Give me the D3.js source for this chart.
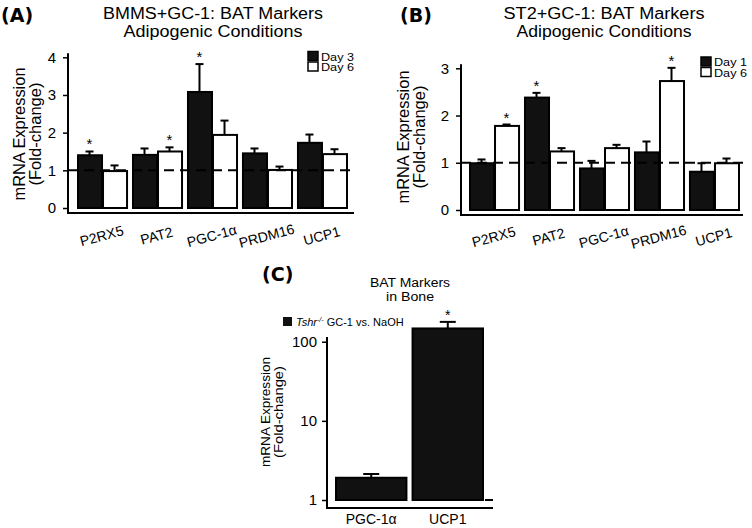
<!DOCTYPE html>
<html><head><meta charset="utf-8">
<script src="https://cdn.jsdelivr.net/npm/d3@7"></script>
<style>
html,body{margin:0;padding:0;background:#fff;}
svg{display:block;font-family:"Liberation Sans",Arial,sans-serif;}
</style></head>
<body>
<svg id="chart" width="752" height="528"></svg>
<script>
// ---------- DATA ----------
const genes = ["P2RX5", "PAT2", "PGC-1\u03b1", "PRDM16", "UCP1"];

// Panel A: BMMS+GC-1
const seriesA = ["Day 3", "Day 6"];
const aDay3 = [1.40, 1.41, 3.08, 1.45, 1.73];
const aDay3Err = [0.10, 0.17, 0.74, 0.13, 0.22];
const aDay6 = [0.98, 1.50, 1.94, 1.01, 1.43];
const aDay6Err = [0.15, 0.11, 0.38, 0.09, 0.13];
const aStars = [[true, false], [false, true], [true, false], [false, false], [false, false]];
const aTicks = [0, 1, 2, 3, 4];

// Panel B: ST2+GC-1
const seriesB = ["Day 1", "Day 6"];
const bDay1 = [0.99, 2.38, 0.88, 1.22, 0.81];
const bDay1Err = [0.08, 0.10, 0.16, 0.23, 0.18];
const bDay6 = [1.78, 1.24, 1.31, 2.73, 0.99];
const bDay6Err = [0.03, 0.07, 0.07, 0.28, 0.10];
const bStars = [[false, true], [true, false], [false, false], [false, true], [false, false]];
const bTicks = [0, 1, 2, 3];

// Panel C: BAT markers in bone (log scale)
const cGenes = ["PGC-1\u03b1", "UCP1"];
const cValues = [1.91, 147];
const cErrTop = [2.13, 178];
const cStars = [false, true];
const cTicks = [1, 10, 100];

// ---------- DRAW ----------
const svg = d3.select("#chart");

function stretchedText(g, x, y, size, len, str, anchor) {
  return g.append("text").attr("x", x).attr("y", y).attr("text-anchor", anchor || "middle")
    .attr("font-size", size).attr("textLength", len).attr("lengthAdjust", "spacingAndGlyphs").text(str);
}

function barPanel(cfg) {
  const g = svg.append("g");
  const x = d3.scaleBand().domain(genes).range(cfg.xRange).paddingInner(0.09).paddingOuter(0);
  const xs = d3.scaleBand().domain(cfg.series).range([0, x.bandwidth()]);
  const y = d3.scaleLinear().domain(cfg.yDomain).range(cfg.yRange);

  const axX = cfg.axisX;
  const yBottom = y(0) + 5;
  g.append("line").attr("x1", axX).attr("x2", axX)
    .attr("y1", y(cfg.yDomain[1]) - 4).attr("y2", yBottom + 1)
    .attr("stroke", "#000").attr("stroke-width", 2);
  g.append("line").attr("x1", axX).attr("x2", cfg.xAxisEnd)
    .attr("y1", yBottom).attr("y2", yBottom)
    .attr("stroke", "#000").attr("stroke-width", 2);

  const yAxis = d3.axisLeft(y).tickValues(cfg.ticks).tickSize(5).tickPadding(7).tickFormat(d3.format("d"));
  const ya = g.append("g").attr("transform", `translate(${axX},0)`).call(yAxis);
  ya.select(".domain").remove();
  ya.selectAll(".tick line").attr("stroke-width", 1.5);
  ya.selectAll(".tick text").attr("font-size", 15).attr("font-family", "Liberation Sans, Arial, sans-serif").attr("fill", "#000");

  const rows = genes.map((gn, i) => ({
    gene: gn,
    vals: cfg.series.map((s, j) => ({ s, j, v: cfg.values[j][i], e: cfg.errs[j][i], star: cfg.stars[i][j] }))
  }));
  const grp = g.selectAll(".grp").data(rows).join("g").attr("transform", d => `translate(${x(d.gene)},0)`);

  grp.selectAll("rect").data(d => d.vals).join("rect")
    .attr("x", d => xs(d.s) + 1).attr("width", xs.bandwidth() - 1)
    .attr("y", d => y(d.v)).attr("height", d => y(0) - y(d.v))
    .attr("fill", d => d.j === 0 ? "#111" : "#fff")
    .attr("stroke", "#000").attr("stroke-width", 2);

  g.append("line").attr("x1", axX).attr("x2", cfg.xAxisEnd)
    .attr("y1", y(1)).attr("y2", y(1))
    .attr("stroke", "#000").attr("stroke-width", 2).attr("stroke-dasharray", "10,6");

  const eb = grp.selectAll(".eb").data(d => d.vals).join("g").attr("class", "eb");
  eb.append("line")
    .attr("x1", d => xs(d.s) + xs.bandwidth() / 2).attr("x2", d => xs(d.s) + xs.bandwidth() / 2)
    .attr("y1", d => y(d.v)).attr("y2", d => y(d.v + d.e))
    .attr("stroke", "#000").attr("stroke-width", 2);
  eb.append("line")
    .attr("x1", d => xs(d.s) + xs.bandwidth() / 2 - 4).attr("x2", d => xs(d.s) + xs.bandwidth() / 2 + 4)
    .attr("y1", d => y(d.v + d.e)).attr("y2", d => y(d.v + d.e))
    .attr("stroke", "#000").attr("stroke-width", 2);
  eb.filter(d => d.star).append("text")
    .attr("x", d => xs(d.s) + xs.bandwidth() / 2).attr("y", d => y(d.v + d.e) - 2)
    .attr("text-anchor", "middle").attr("font-size", 15).text("*");

  g.selectAll(".xl").data(genes).join("text")
    .attr("transform", d => `translate(${x(d) + x.bandwidth() / 2},${cfg.labelY}) rotate(-15)`)
    .attr("text-anchor", "middle").attr("dominant-baseline", "middle")
    .attr("font-size", 14).text(d => d);

  cfg.series.forEach((s, j) => {
    const ly = cfg.legendY + j * 10.5;
    g.append("rect").attr("x", cfg.legendX).attr("y", ly).attr("width", 10).attr("height", 9)
      .attr("fill", j === 0 ? "#111" : "#fff").attr("stroke", "#000").attr("stroke-width", 1.5);
    g.append("text").attr("x", cfg.legendX + 13).attr("y", ly + 9).attr("font-size", 11)
      .attr("textLength", 33).attr("lengthAdjust", "spacingAndGlyphs").text(s);
  });

  stretchedText(g, cfg.titleX, 19, 16, cfg.t1Len, cfg.title1);
  stretchedText(g, cfg.titleX, 37, 16, cfg.t2Len, "Adipogenic Conditions");
  g.append("text").attr("x", cfg.letterX).attr("y", 22).attr("font-family", "DejaVu Sans, sans-serif")
    .attr("font-weight", "bold").attr("font-size", 19).text(cfg.letter);

  const yl = g.append("text").attr("transform", `translate(${cfg.ylabelX},${cfg.ylabelY}) rotate(-90)`)
    .attr("text-anchor", "middle").attr("font-size", 17);
  yl.append("tspan").attr("x", 0).attr("dy", 0).attr("textLength", 133).attr("lengthAdjust", "spacingAndGlyphs").text("mRNA Expression");
  yl.append("tspan").attr("x", 0).attr("dy", 16).attr("textLength", 103).attr("lengthAdjust", "spacingAndGlyphs").text("(Fold-change)");
}

barPanel({
  series: seriesA, values: [aDay3, aDay6], errs: [aDay3Err, aDay6Err], stars: aStars,
  xRange: [77, 347], yDomain: [0, 4], yRange: [208, 57.3], ticks: aTicks,
  axisX: 68, xAxisEnd: 354, labelY: 237, legendX: 308, legendY: 51.5,
  title1: "BMMS+GC-1: BAT Markers", t1Len: 220, t2Len: 179, titleX: 213, letter: "(A)", letterX: 1,
  ylabelX: 25, ylabelY: 134
});

barPanel({
  series: seriesB, values: [bDay1, bDay6], errs: [bDay1Err, bDay6Err], stars: bStars,
  xRange: [469, 739], yDomain: [0, 3], yRange: [210, 68.3], ticks: bTicks,
  axisX: 461, xAxisEnd: 743, labelY: 238, legendX: 701, legendY: 57,
  title1: "ST2+GC-1: BAT Markers", t1Len: 201, t2Len: 175, titleX: 604, letter: "(B)", letterX: 400,
  ylabelX: 409, ylabelY: 137
});

// Panel C
(function () {
  const g = svg.append("g");
  const x = d3.scaleBand().domain(cGenes).range([336, 483]).paddingInner(0.08).paddingOuter(0);
  const y = d3.scaleLog().domain([1, 100]).range([500, 341.7]);
  const axX = 327;
  const yBottom = 508;
  g.append("line").attr("x1", axX).attr("x2", axX).attr("y1", 337).attr("y2", yBottom + 1)
    .attr("stroke", "#000").attr("stroke-width", 2);
  g.append("line").attr("x1", axX).attr("x2", 493).attr("y1", yBottom).attr("y2", yBottom)
    .attr("stroke", "#000").attr("stroke-width", 2);
  const ya = g.append("g").attr("transform", `translate(${axX},0)`)
    .call(d3.axisLeft(y).tickValues(cTicks).tickSize(5).tickPadding(5).tickFormat(d3.format("d")));
  ya.select(".domain").remove();
  ya.selectAll(".tick line").attr("stroke-width", 1.5);
  ya.selectAll(".tick text").attr("font-size", 15).attr("font-family", "Liberation Sans, Arial, sans-serif").attr("fill", "#000");

  // reference line at 1 (hidden behind bars, visible at right end)
  g.append("line").attr("x1", 485).attr("x2", 493).attr("y1", y(1)).attr("y2", y(1))
    .attr("stroke", "#000").attr("stroke-width", 2);

  cGenes.forEach((gn, i) => {
    const cx = x(gn) + x.bandwidth() / 2;
    g.append("rect").attr("x", x(gn)).attr("width", x.bandwidth())
      .attr("y", y(cValues[i])).attr("height", y(1) - y(cValues[i]))
      .attr("fill", "#111").attr("stroke", "#000").attr("stroke-width", 2);
    g.append("line").attr("x1", cx).attr("x2", cx).attr("y1", y(cValues[i])).attr("y2", y(cErrTop[i]))
      .attr("stroke", "#000").attr("stroke-width", 2);
    g.append("line").attr("x1", cx - 8).attr("x2", cx + 8).attr("y1", y(cErrTop[i])).attr("y2", y(cErrTop[i]))
      .attr("stroke", "#000").attr("stroke-width", 2);
    if (cStars[i]) g.append("text").attr("x", cx).attr("y", y(cErrTop[i]) - 2)
      .attr("text-anchor", "middle").attr("font-size", 14).text("*");
    g.append("text").attr("x", cx).attr("y", 524).attr("text-anchor", "middle").attr("font-size", 14).text(gn);
  });

  g.append("rect").attr("x", 283).attr("y", 317).attr("width", 9).attr("height", 9).attr("fill", "#111");
  const lt = g.append("text").attr("x", 296).attr("y", 326).attr("font-size", 11);
  lt.append("tspan").attr("font-style", "italic").text("Tshr");
  lt.append("tspan").attr("font-style", "italic").attr("font-size", 7).attr("dy", -4).text("-/-");
  lt.append("tspan").attr("dy", 4).text(" GC-1 vs. NaOH");

  stretchedText(g, 410, 287, 12, 80, "BAT Markers");
  stretchedText(g, 410, 301, 12, 48, "in Bone");
  g.append("text").attr("x", 262).attr("y", 281).attr("font-family", "DejaVu Sans, sans-serif")
    .attr("font-weight", "bold").attr("font-size", 19).text("(C)");

  const yl = g.append("text").attr("transform", `translate(270,412) rotate(-90)`)
    .attr("text-anchor", "middle").attr("font-size", 13);
  yl.append("tspan").attr("x", 0).attr("dy", 0).attr("textLength", 110).attr("lengthAdjust", "spacingAndGlyphs").text("mRNA Expression");
  yl.append("tspan").attr("x", 0).attr("dy", 13).attr("textLength", 92).attr("lengthAdjust", "spacingAndGlyphs").text("(Fold-change)");
})();
</script>
</body></html>
